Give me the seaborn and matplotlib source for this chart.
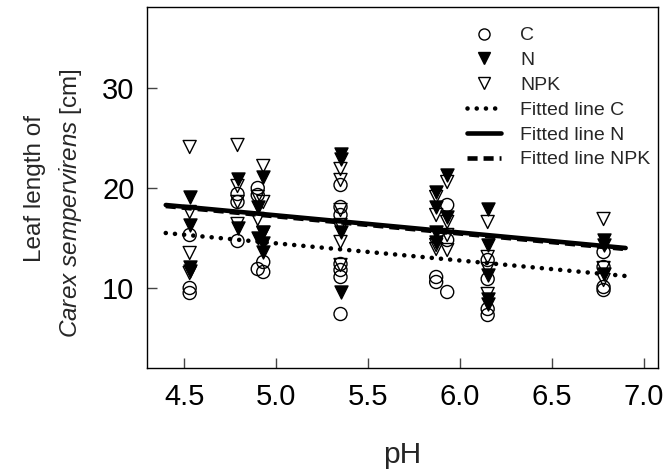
import numpy as np
import pandas as pd
import matplotlib
matplotlib.use("Agg")
import matplotlib.pyplot as plt
import seaborn as sns
from matplotlib.lines import Line2D

# ---- data ----
ph_levels = [4.53, 4.79, 4.90, 4.93, 5.35, 5.87, 5.93, 6.15, 6.78]

C_vals = {
    4.53: [15.3, 10.0, 9.5],
    4.79: [19.4, 18.6, 14.7],
    4.90: [20.0, 19.3, 11.9],
    4.93: [12.6, 11.6],
    5.35: [20.3, 18.1, 17.3, 12.4, 11.8, 11.1, 7.4],
    5.87: [11.1, 10.6],
    5.93: [18.3, 14.8, 9.6],
    6.15: [12.8, 10.9, 7.9, 7.3],
    6.78: [13.6, 12.1, 10.1, 9.8],
}
N_vals = {
    4.53: [19.1, 16.3, 12.1, 11.7],
    4.79: [20.9, 16.0],
    4.90: [18.1, 15.0],
    4.93: [21.1, 15.6, 14.5, 13.6],
    5.35: [23.4, 22.9, 15.6, 9.6],
    5.87: [19.6, 18.1, 15.6, 14.6],
    5.93: [21.3, 17.1],
    6.15: [17.9, 14.3, 11.3, 8.9, 8.4],
    6.78: [14.8, 14.3, 11.4],
}
NPK_vals = {
    4.53: [24.1, 17.6, 13.5, 11.5],
    4.79: [24.3, 20.2, 18.6, 16.4],
    4.90: [19.1, 16.9],
    4.93: [22.2, 18.6, 15.5],
    5.35: [21.9, 20.8, 17.8, 16.3, 15.9, 14.6, 12.3],
    5.87: [19.1, 17.3, 14.3, 13.9],
    5.93: [20.6, 16.6, 15.3, 13.8],
    6.15: [16.6, 13.1, 11.9, 9.4],
    6.78: [16.9, 12.0, 10.8],
}

fit_x = [4.40, 6.90]
fit_C = [15.5, 11.2]
fit_N = [18.3, 14.0]
fit_NPK = [18.2, 13.9]

x_ticks = [4.5, 5.0, 5.5, 6.0, 6.5, 7.0]
y_ticks = [10, 20, 30]

def to_df(d, name):
    rows = [(k, v, name) for k in ph_levels for v in d[k]]
    return pd.DataFrame(rows, columns=["pH", "length", "treatment"])

df = pd.concat([to_df(C_vals, "C"), to_df(N_vals, "N"), to_df(NPK_vals, "NPK")],
               ignore_index=True)

# ---- style ----
sns.set_theme(style="white")
plt.rcParams["font.family"] = ["Liberation Sans", "DejaVu Sans"]
plt.rcParams["mathtext.fontset"] = "custom"
plt.rcParams["mathtext.rm"] = "Liberation Sans"
plt.rcParams["mathtext.it"] = "Liberation Sans:italic"

W, H = 663, 473
fig = plt.figure(figsize=(W / 100, H / 100), dpi=100)
ax = fig.add_axes([147 / W, 1 - 368 / H, 511 / W, 361 / H])

ms = 88
# C: open circles
sns.scatterplot(data=df[df.treatment == "C"], x="pH", y="length", marker="o",
                s=ms, color="black", ax=ax, legend=False)
c = ax.collections[-1]
c.set_facecolor("none"); c.set_edgecolor("black"); c.set_linewidth(1.0)
# N: filled triangles
sns.scatterplot(data=df[df.treatment == "N"], x="pH", y="length", marker="v",
                s=ms, color="black", ax=ax, legend=False)
c = ax.collections[-1]
c.set_facecolor("black"); c.set_edgecolor("black"); c.set_linewidth(1.0)
# NPK: open triangles
sns.scatterplot(data=df[df.treatment == "NPK"], x="pH", y="length", marker="v",
                s=ms, color="black", ax=ax, legend=False)
c = ax.collections[-1]
c.set_facecolor("none"); c.set_edgecolor("black"); c.set_linewidth(1.0)

lw = 3.3
dot_style = (0, (0.01, 2.0))
dash_style = (0, (2.2, 1.3))
sns.lineplot(x=fit_x, y=fit_C, ax=ax, color="black", linewidth=lw)
ln = ax.lines[-1]; ln.set_linestyle(dot_style); ln.set_dash_capstyle("round")
sns.lineplot(x=fit_x, y=fit_N, ax=ax, color="black", linewidth=lw)
sns.lineplot(x=fit_x, y=fit_NPK, ax=ax, color="black", linewidth=lw)
ln = ax.lines[-1]; ln.set_linestyle(dash_style)

ax.set_xlim(4.298, 7.076)
ax.set_ylim(2.0, 38.1)
ax.set_xticks(x_ticks)
ax.set_xticklabels([f"{t:.1f}" for t in x_ticks])
ax.set_yticks(y_ticks)
ax.set_yticklabels([str(t) for t in y_ticks])

for s in ax.spines.values():
    s.set_color("black"); s.set_linewidth(1.0); s.set_visible(True)
ax.tick_params(axis="both", direction="in", length=7, width=1.0, color="#444444",
               labelsize=21, labelcolor="black", bottom=True, left=True,
               top=False, right=False)
ax.tick_params(axis="x", pad=11)
ax.tick_params(axis="y", pad=9)

ax.set_xlabel("")
ax.set_ylabel("")
fig.text(402 / W, 1 - 455 / H, "pH", ha="center", va="center", fontsize=21.5)
fig.text(35 / W, 1 - 189 / H, "Leaf length of", ha="center", va="center",
         rotation=90, fontsize=17.5)
fig.text(71 / W, 1 - 203 / H, "$\\it{Carex\\ sempervirens}$ [cm]", ha="center",
         va="center", rotation=90, fontsize=17.5)

handles = [
    Line2D([], [], ls="none", marker="o", ms=8, mfc="none", mec="black", mew=1.0),
    Line2D([], [], ls="none", marker="v", ms=8, mfc="black", mec="black", mew=1.0),
    Line2D([], [], ls="none", marker="v", ms=8, mfc="none", mec="black", mew=1.0),
    Line2D([], [], color="black", lw=lw, ls=dot_style, dash_capstyle="round"),
    Line2D([], [], color="black", lw=lw, ls="-"),
    Line2D([], [], color="black", lw=lw, ls=dash_style),
]
labels = ["C", "N", "NPK", "Fitted line C", "Fitted line N", "Fitted line NPK"]
ax.legend(handles, labels, loc="upper right", bbox_to_anchor=(0.985, 0.945),
          frameon=False, fontsize=14, handlelength=1.75, handletextpad=1.0,
          labelspacing=0.37, borderpad=0, borderaxespad=0)

fig.savefig("out.png", dpi=100)
